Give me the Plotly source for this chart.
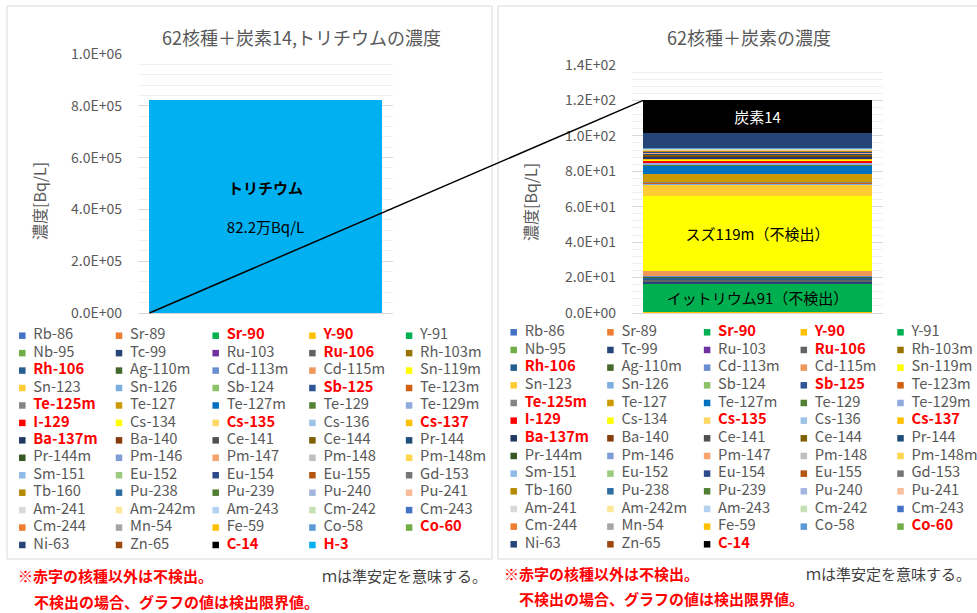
import plotly.graph_objects as go

W, H = 977, 613

# nuclides in stacking order (bottom -> top), same order as the key grid
nuclides = ["Rb-86", "Sr-89", "Sr-90", "Y-90", "Y-91", "Nb-95", "Tc-99", "Ru-103", "Ru-106", "Rh-103m",
            "Rh-106", "Ag-110m", "Cd-113m", "Cd-115m", "Sn-119m", "Sn-123", "Sn-126", "Sb-124", "Sb-125", "Te-123m",
            "Te-125m", "Te-127", "Te-127m", "Te-129", "Te-129m", "I-129", "Cs-134", "Cs-135", "Cs-136", "Cs-137",
            "Ba-137m", "Ba-140", "Ce-141", "Ce-144", "Pr-144", "Pr-144m", "Pm-146", "Pm-147", "Pm-148", "Pm-148m",
            "Sm-151", "Eu-152", "Eu-154", "Eu-155", "Gd-153", "Tb-160", "Pu-238", "Pu-239", "Pu-240", "Pu-241",
            "Am-241", "Am-242m", "Am-243", "Cm-242", "Cm-243", "Cm-244", "Mn-54", "Fe-59", "Co-58", "Co-60",
            "Ni-63", "Zn-65", "C-14"]

# concentration [Bq/L] (detection limit when not detected)
conc = [0.05, 0.05, 0.1, 0.3, 16.1, 0.1, 0.9, 0.1, 1.1, 0.1,
        1.3, 0.3, 0.5, 2.6, 42.6, 6.6, 0.1, 0.1, 0.2, 0.4,
        0.1, 4.9, 4.7, 0.4, 0.9, 1.7, 0.3, 0.2, 0.1, 0.3,
        1.2, 0.3, 0.3, 0.4, 0.4, 0.1, 0.1, 0.4, 0.1, 0.1,
        0.1, 0.1, 0.1, 0.2, 0.1, 0.4, 0.05, 0.05, 0.05, 0.6,
        0.05, 0.1, 0.05, 0.05, 0.05, 0.05, 0.1, 0.1, 0.3, 0.2,
        8.3, 0.1, 18.2]

colors = ["#4472C4", "#ED7D31", "#00B050", "#FFC000", "#00B050", "#70AD47", "#264478", "#7030A0", "#636363", "#997300",
          "#255E91", "#43682B", "#698ED0", "#F1975A", "#FFFF00", "#FFCD33", "#7CAFDD", "#8CC168", "#2F5597", "#D26012",
          "#848484", "#CC9A00", "#0070C0", "#548235", "#8FAADC", "#FF0000", "#FFFF00", "#FFD966", "#9DC3E6", "#FFC000",
          "#203864", "#843C0C", "#505050", "#7F6000", "#1F4E79", "#375623", "#7F9ED6", "#F4A46C", "#BFBFBF", "#FFD54F",
          "#8FBBE6", "#9DCB7E", "#2E4A8D", "#B4560F", "#767676", "#B38A00", "#2E6DA4", "#507E32", "#A4B6E0", "#F8BD9A",
          "#D9D9D9", "#FFE699", "#B4D2F0", "#C5E0B4", "#4472C4", "#ED7D31", "#A5A5A5", "#FFC000", "#5B9BD5", "#70AD47",
          "#264478", "#9E480E", "#000000"]

detected = ["Sr-90", "Y-90", "Ru-106", "Rh-106", "Sb-125", "Te-125m", "I-129", "Cs-135", "Cs-137",
            "Ba-137m", "Co-60", "C-14", "H-3"]

tritium_name = "H-3"
tritium_conc = 822000
tritium_color = "#00B0F0"

bar_labels = {
    "H-3": "<b>トリチウム</b><br><br>82.2万Bq/L",
    "C-14": "炭素14",
    "Sn-119m": "スズ119m（不検出）",
    "Y-91": "イットリウム91（不検出）",
}
label_colors = {"C-14": "white"}

left_ticks = [0, 2e5, 4e5, 6e5, 8e5, 1e6]
right_ticks = [0, 20, 40, 60, 80, 100, 120, 140]

NCOL = 5
COL_W = 96.7          # px between key columns
KEY_SPAN = 4.5        # key axis range in column units (room for the last labels)
KEY_GAP = 11 / COL_W  # swatch centre -> text start, in column units
BARGAP = 0.09


def px_x(v):
    return v / W


def px_y(v):
    return 1 - v / H


xdom1 = [px_x(138), px_x(393)]
xdom2 = [px_x(632), px_x(883)]
ydom = [px_y(313), px_y(54)]
ydom2 = [px_y(313), px_y(65)]

fig = go.Figure()


def add_stack(names, vals, cols, xa, ya):
    for n, v, c in zip(names, vals, cols):
        fig.add_trace(go.Bar(
            x=[0], y=[v], xaxis=xa, yaxis=ya, name=n, showlegend=False,
            marker=dict(color=c, line=dict(width=0)),
            text=[bar_labels.get(n, "")], textposition="inside", insidetextanchor="middle",
            textangle=0, textfont=dict(size=15, color=label_colors.get(n, "black")),
            hoverinfo="skip",
        ))


def add_key(names, cols, xa, ya):
    # 5-column key grid: swatch + label, red bold for detected nuclides
    kx = [i % NCOL for i in range(len(names))]
    ky = [i // NCOL for i in range(len(names))]
    fig.add_trace(go.Scatter(
        x=kx, y=ky, xaxis=xa, yaxis=ya, mode="markers", showlegend=False, hoverinfo="skip",
        marker=dict(symbol="square", size=6.5, color=cols, line=dict(width=0)), cliponaxis=False,
    ))
    fig.add_trace(go.Scatter(
        x=[v + KEY_GAP for v in kx], y=ky, xaxis=xa, yaxis=ya, mode="text", showlegend=False,
        hoverinfo="skip", cliponaxis=False, textposition="middle right",
        text=[f"<b>{n}</b>" if n in detected else n for n in names],
        textfont=dict(size=14.7, color=["#FF0000" if n in detected else "#595959" for n in names]),
    ))


add_stack(nuclides + [tritium_name], conc + [tritium_conc], colors + [tritium_color], "x", "y")
add_stack(nuclides, conc, colors, "x2", "y2")
add_key(nuclides + [tritium_name], colors + [tritium_color], "x3", "y3")
add_key(nuclides, colors, "x4", "y4")

grid = dict(showgrid=True, gridcolor="#D9D9D9", gridwidth=1, zeroline=False, ticks="",
            tickfont=dict(size=14, color="#595959"), ticklabelstandoff=15)
hidden = dict(visible=False, showgrid=False, zeroline=False)
fig.update_layout(
    width=W, height=H, margin=dict(l=0, r=0, t=0, b=0, autoexpand=False),
    paper_bgcolor="white", plot_bgcolor="white", showlegend=False,
    barmode="stack", bargap=BARGAP,
    font=dict(family="Noto Sans CJK JP", color="#595959"),
    xaxis=dict(domain=xdom1, anchor="y", showticklabels=False, showgrid=False, showline=True,
               linecolor="#D9D9D9", zeroline=False),
    xaxis2=dict(domain=xdom2, anchor="y2", showticklabels=False, showgrid=False, showline=True,
                linecolor="#D9D9D9", zeroline=False),
    yaxis=dict(domain=ydom, anchor="x", range=[0, 1e6], tickmode="array", tickvals=left_ticks,
               ticktext=[f"{v:.1E}" for v in left_ticks],
               minor=dict(dtick=4e4, tick0=0, showgrid=True, gridcolor="#F0F0F0"), **grid),
    yaxis2=dict(domain=ydom2, anchor="x2", range=[0, 140], tickmode="array", tickvals=right_ticks,
                ticktext=[f"{v:.1E}" for v in right_ticks],
                minor=dict(dtick=4, tick0=0, showgrid=True, gridcolor="#F0F0F0"), **grid),
    xaxis3=dict(domain=[px_x(22.3), px_x(22.3 + KEY_SPAN * COL_W)], range=[0, KEY_SPAN], anchor="y3", **hidden),
    yaxis3=dict(domain=[px_y(545), px_y(335.7)], range=[12, 0], anchor="x3", **hidden),
    xaxis4=dict(domain=[px_x(513.7), px_x(513.7 + KEY_SPAN * COL_W)], range=[0, KEY_SPAN], anchor="y4", **hidden),
    yaxis4=dict(domain=[px_y(544.3), px_y(332.3)], range=[12, 0], anchor="x4", **hidden),
)

# panel frames
frame = dict(type="rect", xref="paper", yref="paper", line=dict(color="#D9D9D9", width=1), layer="below")
fig.add_shape(x0=px_x(7), x1=px_x(492), y0=px_y(559), y1=px_y(6), **frame)
fig.add_shape(x0=px_x(498), x1=1.02, y0=px_y(559), y1=px_y(6), **frame)

# connector: bottom-left of the tritium bar to top-left of the right stack
total_right = sum(conc)
lx0 = xdom1[0] + BARGAP / 2 * (xdom1[1] - xdom1[0])
lx1 = xdom2[0] + BARGAP / 2 * (xdom2[1] - xdom2[0])
ly1 = ydom2[0] + total_right / 140 * (ydom2[1] - ydom2[0])
fig.add_shape(type="line", xref="paper", yref="paper", x0=lx0, y0=ydom[0], x1=lx1, y1=ly1,
              line=dict(color="black", width=1.5), layer="above")

titles = [("62核種＋炭素14,トリチウムの濃度", 301), ("62核種＋炭素の濃度", 749)]
for t, cx in titles:
    fig.add_annotation(text=t, x=px_x(cx), y=px_y(37), xref="paper", yref="paper", showarrow=False,
                       xanchor="center", yanchor="middle", font=dict(size=18, color="#595959"))

for cx, cy in [(39, 201), (530, 202)]:
    fig.add_annotation(text="濃度[Bq/L]", x=px_x(cx), y=px_y(cy), xref="paper", yref="paper",
                       showarrow=False, textangle=-90, xanchor="center", yanchor="middle",
                       font=dict(size=16, color="#595959"))

notes = [
    ("<b>※赤字の核種以外は不検出。</b>", 16, 575, "#FF0000"),
    ("<b>不検出の場合、グラフの値は検出限界値。</b>", 32, 601, "#FF0000"),
    ("ｍは準安定を意味する。", 320, 575, "#404040"),
    ("<b>※赤字の核種以外は不検出。</b>", 502, 573, "#FF0000"),
    ("<b>不検出の場合、グラフの値は検出限界値。</b>", 517, 598, "#FF0000"),
    ("ｍは準安定を意味する。", 804, 573, "#404040"),
]
for t, lx, cy, col in notes:
    fig.add_annotation(text=t, x=px_x(lx), y=px_y(cy), xref="paper", yref="paper", xanchor="left",
                       yanchor="middle", showarrow=False, font=dict(size=15, color=col))

fig.write_html("out.html", config={"displayModeBar": False},
               post_script="document.body.style.margin='0';")
